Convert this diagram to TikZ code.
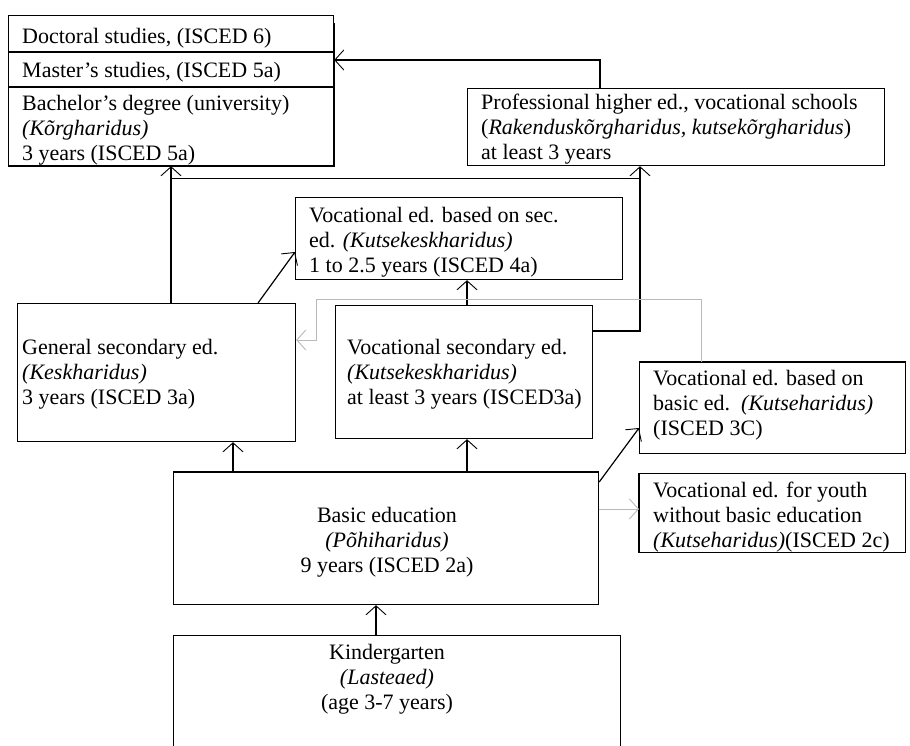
\documentclass[tikz,border=0pt]{standalone}
\usepackage{fontspec}
\setmainfont{Liberation Serif}
\usetikzlibrary{arrows.meta}
\definecolor{lightln}{RGB}{185,185,185}
\begin{document}
\begin{tikzpicture}[x=1pt,y=-1pt,
  box/.style={draw, line width=1.2pt, inner sep=0pt, anchor=north west},
  txt/.style={inner sep=0pt, anchor=north west, align=left, font=\fontsize{22}{25}\selectfont},
  ctxt/.style={inner sep=0pt, anchor=north, align=center, font=\fontsize{22}{25}\selectfont},
  arr/.style={-{Straight Barb[length=9pt,width=20pt,line width=0.9pt]}, line width=1.2pt},
  garr/.style={arr, draw=lightln, line width=1pt},
  thick edge/.style={line width=2.4pt}]
\useasboundingbox (0,0) rectangle (910,746);
\clip (0,0) rectangle (910,746);
\fill[white] (0,0) rectangle (910,746);

% boxes
\node[box, minimum width=325pt, minimum height=150pt] (top) at (8,15) {};
\node[box, minimum width=417pt, minimum height=77pt] (prof) at (467,88) {};
\node[box, minimum width=327pt, minimum height=82pt] (vsec4) at (295,197) {};
\node[box, minimum width=278pt, minimum height=138pt] (gen) at (17,303) {};
\node[box, minimum width=257pt, minimum height=133pt] (vocsec) at (335,305) {};
\node[box, minimum width=266pt, minimum height=91pt] (vbasic) at (639,362) {};
\node[box, minimum width=266pt, minimum height=79pt] (youth) at (639,473) {};
\node[box, minimum width=425pt, minimum height=132pt] (basic) at (173,472) {};
\node[box, minimum width=447pt, minimum height=140pt] (kind) at (173,635) {};

% dividers and heavier edges
\draw[line width=1.2pt] ([yshift=-37pt]top.north west) -- ([yshift=-37pt]top.north east);
\draw[line width=1.2pt] ([yshift=-72pt]top.north west) -- ([yshift=-72pt]top.north east);
\draw[thick edge] (top.south west) -- (top.south east) -- ([yshift=-8pt]top.north east);
\draw[thick edge] (basic.north west) -- (basic.north east);
\draw[thick edge] (vbasic.north west) -- (vbasic.north east);
\draw[thick edge] (youth.north west) -- (youth.south west);

% texts
\node[txt] (tdoc) at (22,25.5) {\strut Doctoral studies, (ISCED 6)};
\node[txt] (tmas) at (22,59.5) {\strut Master’s studies, (ISCED 5a)};
\node[txt] (tbac) at (22,92.5) {\strut Bachelor’s degree (university)\\ \textit{(Kõrgharidus)}\\ 3 years (ISCED 5a)};
\node[txt] (tprof) at (481,91.5) {\strut Professional higher ed., vocational schools\\ (\textit{Rakenduskõrgharidus, kutsekõrgharidus})\\ at least 3 years};
\node[txt] (tvsec4) at (309,204.5) {\strut Vocational ed. based on sec.\\ ed. \textit{(Kutsekeskharidus)}\\ 1 to 2.5 years (ISCED 4a)};
\node[txt] (tgen) at (22,336.5) {\strut General secondary ed.\\ \textit{(Keskharidus)}\\ 3 years (ISCED 3a)};
\node[txt] (tvocsec) at (347,336.5) {\strut Vocational secondary ed.\\ \textit{(Kutsekeskharidus)}\\ at least 3 years (ISCED3a)};
\node[txt] (tvbasic) at (653,367.5) {\strut Vocational ed. based on\\ basic ed.\ \ \textit{(Kutseharidus)}\\ (ISCED 3C)};
\node[txt] (tyouth) at (653,479.5) {\strut Vocational ed. for youth\\ without basic education\\ \textit{(Kutseharidus)}(ISCED 2c)};
\node[ctxt] (tbasic) at (387,504.5) {\strut Basic education\\ \textit{(Põhiharidus)}\\ 9 years (ISCED 2a)};
\node[ctxt] (tkind) at (387,641.5) {\strut Kindergarten\\ \textit{(Lasteaed)}\\ (age 3-7 years)};

% helper coordinates
\coordinate (g1) at ([xshift=154pt]gen.north west);
\coordinate (v1) at ([yshift=-26pt]vocsec.north east);
\coordinate (p1) at ([xshift=173pt]prof.south west);
\coordinate (j1) at ([yshift=-12pt]p1);
\coordinate (v2) at ([xshift=132pt]vocsec.north west);
\coordinate (b1) at ([xshift=62pt]vbasic.north west);
\coordinate (gr) at ([yshift=-37pt]gen.north east);
\coordinate (s1) at ([xshift=60pt]basic.north west);
\coordinate (s2) at ([xshift=294pt]basic.north west);
\coordinate (s3) at ([yshift=-37pt]basic.north east);
\coordinate (k1) at ([xshift=203pt]kind.north west);

% connectors
\draw[arr] ([xshift=133pt]prof.north west) |- ([yshift=-45pt]top.north east);
\draw[arr] (g1) -- (g1 |- top.south);
\draw[arr] (v1) -| (p1);
\draw[line width=1.2pt] (j1) -- (j1 -| g1);
\draw[arr] ([xshift=241pt]gen.north west) -- ([yshift=-55pt]vsec4.north west);
\draw[arr] (v2) -- (v2 |- vsec4.south);
\draw[garr] (b1) -- ++(0,-63) -| ([xshift=20pt]gr) -- (gr);
\draw[arr] (s1) -- (s1 |- gen.south);
\draw[arr] (s2) -- (s2 |- vocsec.south);
\draw[arr] ([yshift=-10pt]basic.north east) -- ([yshift=-66pt]vbasic.north west);
\draw[garr] (s3) -- (s3 -| youth.west);
\draw[arr] (k1) -- (k1 |- basic.south);
\end{tikzpicture}
\end{document}
